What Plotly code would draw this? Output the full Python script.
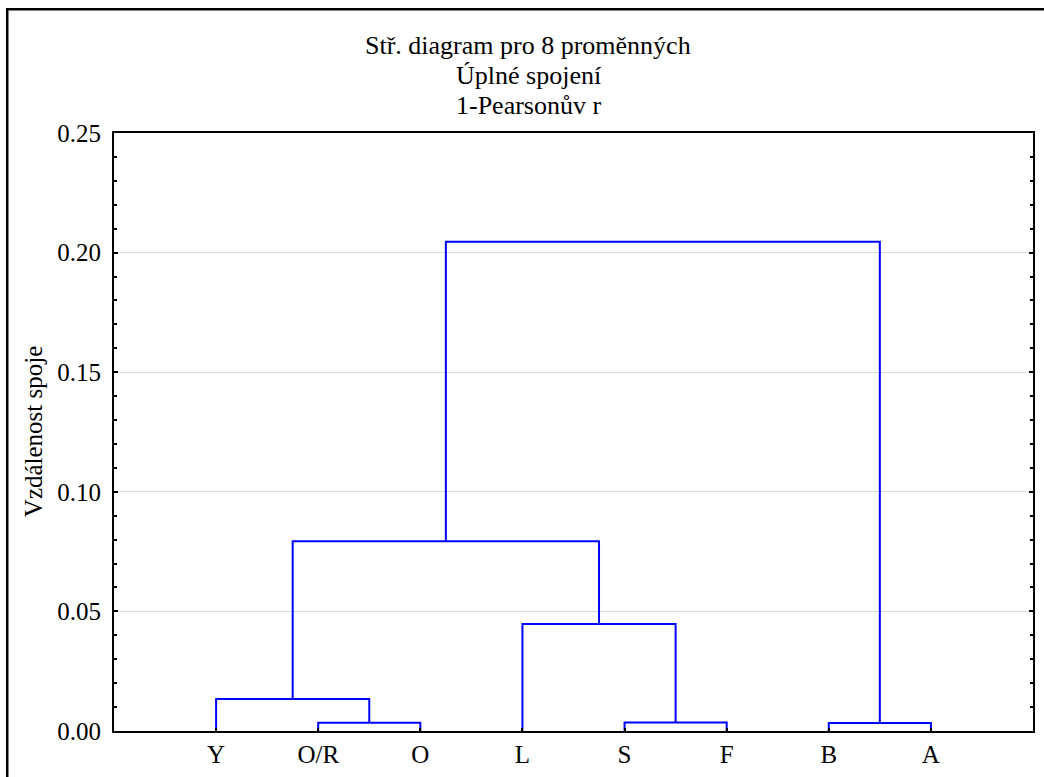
import plotly.graph_objects as go

# Leaves in dendrogram order
leaves = ["Y", "O/R", "O", "L", "S", "F", "B", "A"]
# Linkage: (left node, right node, height). Nodes 0..7 are leaves, 8+ are merges.
link_left = [1, 4, 6, 0, 3, 11, 13]
link_right = [2, 5, 7, 8, 9, 12, 10]
link_height = [0.0035, 0.0036, 0.0033, 0.0134, 0.0447, 0.0793, 0.2045]

y_ticks = [0.00, 0.05, 0.10, 0.15, 0.20, 0.25]

FONT = "Liberation Serif"
BLUE = "#0000FF"
FS = 25
FS_T = 26

# node positions
pos_x = {i: i + 1 for i in range(len(leaves))}
pos_y = {i: 0.0 for i in range(len(leaves))}
xs, ys = [], []
for k, (a, b, h) in enumerate(zip(link_left, link_right, link_height)):
    node = len(leaves) + k
    xs += [pos_x[a], pos_x[a], pos_x[b], pos_x[b], None]
    ys += [pos_y[a], h, h, pos_y[b], None]
    pos_x[node] = (pos_x[a] + pos_x[b]) / 2
    pos_y[node] = h

fig = go.Figure()
fig.add_trace(go.Scatter(x=xs, y=ys, mode="lines",
                         line=dict(color=BLUE, width=2), hoverinfo="skip",
                         showlegend=False, cliponaxis=False))

fig.update_layout(
    width=1044, height=777,
    margin=dict(l=114, r=9, t=133, b=45),
    paper_bgcolor="white", plot_bgcolor="white",
    font=dict(family=FONT, size=FS, color="black"),
    showlegend=False,
)
fig.update_xaxes(
    range=[0, len(leaves) + 1], tickmode="array",
    tickvals=list(range(1, len(leaves) + 1)), ticktext=leaves,
    ticks="inside", ticklen=3, tickwidth=2, tickcolor="black",
    showgrid=False, zeroline=False,
    showline=True, linecolor="black", linewidth=2, mirror=True,
    tickfont=dict(family=FONT, size=FS),
)
fig.update_yaxes(
    range=[0, 0.25], tickmode="array", tickvals=y_ticks,
    ticktext=[f"{v:.2f}" for v in y_ticks],
    ticks="inside", ticklen=4, tickwidth=1.5, tickcolor="black",
    minor=dict(dtick=0.01, ticks="inside", ticklen=3, tickcolor="black", showgrid=False),
    showgrid=True, gridcolor="#dcdcdc", gridwidth=1, zeroline=False,
    showline=True, linecolor="black", linewidth=2, mirror="ticks",
    tickfont=dict(family=FONT, size=FS), ticklabelstandoff=6,
)

fig.add_annotation(text="Vzdálenost spoje", xref="paper", yref="paper",
                   x=(33 - 114) / 921, y=0.5, textangle=-90, showarrow=False,
                   xanchor="center", yanchor="middle",
                   font=dict(family=FONT, size=FS))

titles = ["Stř. diagram pro 8 proměnných", "Úplné spojení", "1-Pearsonův r"]
for i, t in enumerate(titles):
    fig.add_annotation(text=t, xref="paper", yref="paper",
                       x=(529 - 114) / 921, y=(732 - (45 + 30 * i)) / 599,
                       showarrow=False, xanchor="center", yanchor="middle",
                       font=dict(family=FONT, size=FS_T))

# outer frame
fig.add_shape(type="rect", xref="paper", yref="paper",
              x0=(7 - 114) / 921, x1=(1060 - 114) / 921,
              y0=(732 - 800) / 599, y1=(732 - 9) / 599,
              line=dict(color="black", width=2.5), layer="below")

fig.write_html("out.html")
